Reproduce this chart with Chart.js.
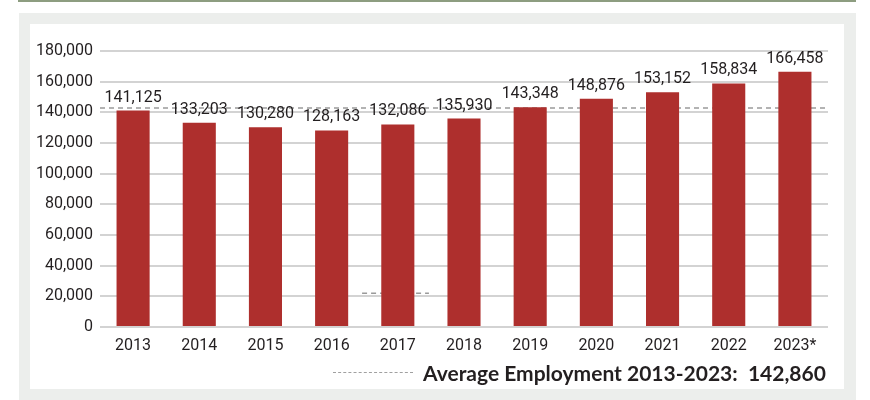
<!DOCTYPE html>
<html>
<head>
<meta charset="utf-8">
<script src="https://cdn.jsdelivr.net/npm/chart.js@4"></script>
<style>
  body { margin: 0; background: #fff; }
  #wrap { position: relative; width: 870px; height: 400px; overflow: hidden; }
  #topline { position: absolute; left: 18px; top: 0; width: 838px; height: 2px; background: #8d9d80; }
  #panel { position: absolute; left: 19px; top: 13px; width: 837px; height: 387px; background: #eceeec; }
  #inner { position: absolute; left: 30px; top: 24px; width: 814px; height: 365px; background: #fff; }
  #chart { position: absolute; left: 0; top: 0; }
  #legend { position: absolute; left: 333px; top: 357px; height: 30px; display: flex; align-items: center;
            font-family: Lato, 'Open Sans', sans-serif; font-weight: bold; font-size: 21px; color: #231f20; white-space: pre; }
  #legend .dash { display: inline-block; width: 80px; border-top: 1.5px dashed #a0a0a0; margin-right: 10px; }
</style>
</head>
<body>
<div id="wrap">
  <div id="topline"></div>
  <div id="panel"></div>
  <div id="inner"></div>
  <canvas id="chart" width="870" height="400"></canvas>
  <div id="legend"><span class="dash"></span><span id="legendText"></span></div>
</div>
<script>
const years = ['2013', '2014', '2015', '2016', '2017', '2018', '2019', '2020', '2021', '2022', '2023*'];
const employment = [141125, 133203, 130280, 128163, 132086, 135930, 143348, 148876, 153152, 158834, 166458];
const averageEmployment = 142860;
const legendLabel = 'Average Employment 2013-2023:  142,860';
const yTicks = [0, 20000, 40000, 60000, 80000, 100000, 120000, 140000, 160000, 180000];
// stray dashed stub printed near the 2017 bar in the original (category index units)
const strayStub = { from: 3.46, to: 4.47, value: 22000 };

const FONT = "Roboto, 'Liberation Sans', sans-serif";

document.getElementById('legendText').textContent = legendLabel;

// value labels over the bars
const barLabels = {
    id: 'barLabels',
    afterDatasetsDraw(chart) {
        const ctx = chart.ctx;
        const meta = chart.getDatasetMeta(0);
        ctx.save();
        ctx.font = '16px ' + FONT;
        ctx.fillStyle = '#231f20';
        ctx.textAlign = 'center';
        ctx.textBaseline = 'bottom';
        meta.data.forEach(function (bar, i) {
            ctx.fillText(employment[i].toLocaleString('en-US'), bar.x, bar.y - 5);
        });
        ctx.restore();
    }
};

const dashStyle = {
    type: 'line',
    parsing: false,
    borderColor: '#9a9a9a',
    borderWidth: 1.5,
    borderDash: [5, 4],
    pointRadius: 0,
    order: 2
};

new Chart(document.getElementById('chart'), {
    type: 'bar',
    data: {
        labels: years,
        datasets: [{
            type: 'bar',
            label: 'Employment',
            data: employment,
            backgroundColor: '#ae2f2d',
            grouped: false,
            barPercentage: 0.5,
            categoryPercentage: 1.0,
            order: 1
        }, Object.assign({}, dashStyle, {
            label: legendLabel,
            data: [{ x: -0.5, y: averageEmployment }, { x: years.length - 0.5, y: averageEmployment }]
        }), Object.assign({}, dashStyle, {
            label: 'stub',
            data: [{ x: strayStub.from, y: strayStub.value }, { x: strayStub.to, y: strayStub.value }]
        })]
    },
    options: {
        responsive: false,
        animation: false,
        layout: { padding: { top: 51, right: 42, bottom: 43, left: 0 } },
        plugins: {
            legend: { display: false },
            tooltip: { enabled: false }
        },
        scales: {
            x: {
                grid: { display: false },
                border: { display: false },
                ticks: { color: '#231f20', font: { family: FONT, size: 16 }, padding: 1 },
                afterFit: function (scale) { scale.height = 30; }
            },
            y: {
                min: 0,
                max: 180000,
                afterBuildTicks: function (scale) { scale.ticks = yTicks.map(v => ({ value: v })); },
                grid: { color: '#d3d3d3', lineWidth: 2, drawTicks: false },
                border: { display: false },
                ticks: { color: '#231f20', font: { family: FONT, size: 16 }, padding: 7 },
                afterFit: function (scale) { scale.width = 100; }
            }
        }
    },
    plugins: [barLabels]
});
</script>
</body>
</html>
